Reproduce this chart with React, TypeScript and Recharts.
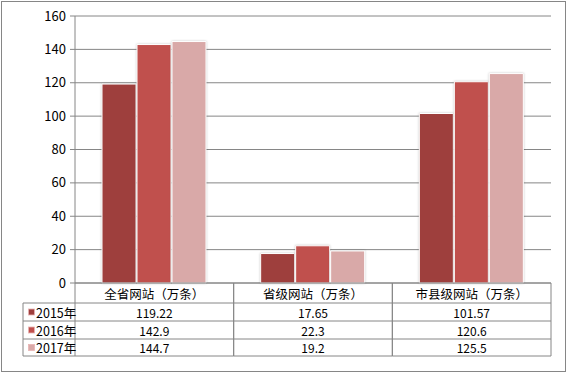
import { BarChart, Bar, XAxis, YAxis, CartesianGrid } from 'recharts';

const categories = ['全省网站（万条）', '省级网站（万条）', '市县级网站（万条）'];
const years = ['2015年', '2016年', '2017年'];
const values2015 = [119.22, 17.65, 101.57];
const values2016 = [142.9, 22.3, 120.6];
const values2017 = [144.7, 19.2, 125.5];
const yTicks = [0, 20, 40, 60, 80, 100, 120, 140, 160];

const COLORS = ['#9e3f3d', '#c0504d', '#d9a9a8'];
const GRAY = '#868686';
const FONT = '"Noto Sans CJK SC", "Noto Sans", sans-serif';

const data = categories.map((name, i) => ({
  name,
  v2015: values2015[i],
  v2016: values2016[i],
  v2017: values2017[i],
}));
const seriesValues = [values2015, values2016, values2017];

// row offsets below the x axis line
const ROW_LINES = [20, 38, 56, 73];
const HEADER_MID = 10.5;
const ROW_MIDS = [29, 47, 64.5];
const LEGEND_W = 52;

// header text + data cells for one category column of the table
function TableTick(props: any) {
  const { x, y, payload, index } = props;
  const half = payload && payload.offset ? payload.offset : 79.33;
  const left = x - half;
  const right = x + half;
  const bottom = y + ROW_LINES[ROW_LINES.length - 1];
  return (
    <g fontFamily={FONT} fontSize={12} fill="#000">
      <line x1={left} x2={left} y1={y} y2={bottom} stroke={GRAY} />
      <line x1={right} x2={right} y1={y} y2={bottom} stroke={GRAY} />
      {ROW_LINES.map((r) => (
        <line key={r} x1={left} x2={right} y1={y + r} y2={y + r} stroke={GRAY} />
      ))}
      <text x={x} y={y + HEADER_MID} textAnchor="middle" dominantBaseline="central" fontSize={12.5}>
        {payload.value}
      </text>
      {seriesValues.map((vals, s) => (
        <text key={s} x={x} y={y + ROW_MIDS[s]} textAnchor="middle" dominantBaseline="central">
          {vals[index]}
        </text>
      ))}
      {index === 0 && (
        <g>
          <line x1={left - LEGEND_W} x2={left - LEGEND_W} y1={y + ROW_LINES[0]} y2={bottom} stroke={GRAY} />
          {ROW_LINES.map((r) => (
            <line key={'l' + r} x1={left - LEGEND_W} x2={left} y1={y + r} y2={y + r} stroke={GRAY} />
          ))}
          {years.map((yr, s) => (
            <g key={yr}>
              <rect
                x={left - LEGEND_W + 5.5}
                y={y + ROW_MIDS[s] - 3}
                width={6}
                height={6}
                fill={COLORS[s]}
                stroke="#e8b4b4"
                strokeWidth={0.8}
              />
              <text x={left - LEGEND_W + 13} y={y + ROW_MIDS[s]} dominantBaseline="central" fontSize={12.5}>
                {yr}
              </text>
            </g>
          ))}
        </g>
      )}
    </g>
  );
}

export default function App() {
  return (
    <div style={{ position: 'absolute', left: 0, top: 0, width: 568, height: 374, background: '#fff' }}>
      <style>{'.bar-shadow path { filter: drop-shadow(0.5px 0.5px 1px rgba(0,0,0,0.22)); }'}</style>
      <div
        style={{
          position: 'absolute',
          left: 1,
          top: 1,
          width: 565,
          height: 371,
          boxSizing: 'border-box',
          border: `1px solid ${GRAY}`,
        }}
      />
      <div style={{ position: 'absolute', left: 0, top: 0 }}>
        <BarChart
          width={568}
          height={374}
          data={data}
          margin={{ top: 16, right: 17, left: 0, bottom: 0 }}
          barSize={34}
          barGap={1}
        >
          <CartesianGrid vertical={false} stroke={GRAY} strokeWidth={1} />
          <XAxis
            dataKey="name"
            height={91}
            interval={0}
            tickLine={false}
            tickSize={0}
            tickMargin={0}
            axisLine={{ stroke: GRAY }}
            tick={<TableTick />}
          />
          <YAxis
            width={75}
            domain={[0, 160]}
            ticks={yTicks}
            interval={0}
            tickSize={5}
            tickMargin={4}
            axisLine={{ stroke: GRAY }}
            tickLine={{ stroke: GRAY }}
            tick={{ fill: '#000', fontSize: 13, fontFamily: FONT }}
          />
          <Bar className="bar-shadow" dataKey="v2015" name={years[0]} fill={COLORS[0]} stroke="#fff" strokeWidth={1} isAnimationActive={false} />
          <Bar className="bar-shadow" dataKey="v2016" name={years[1]} fill={COLORS[1]} stroke="#fff" strokeWidth={1} isAnimationActive={false} />
          <Bar className="bar-shadow" dataKey="v2017" name={years[2]} fill={COLORS[2]} stroke="#fff" strokeWidth={1} isAnimationActive={false} />
        </BarChart>
      </div>
    </div>
  );
}
